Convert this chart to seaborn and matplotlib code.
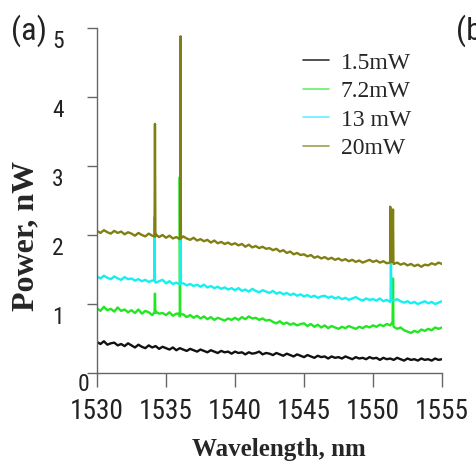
import numpy as np
import pandas as pd
import matplotlib
matplotlib.use("Agg")
import matplotlib.pyplot as plt
import matplotlib.transforms as mtransforms
from matplotlib import font_manager as fm
from matplotlib.lines import Line2D
import seaborn as sns

# sampling grid of the spectrum, nm
wavelength = np.linspace(1530, 1555, 101)

p_1_5 = [0.45, 0.42, 0.46, 0.41, 0.43, 0.44, 0.40, 0.42, 0.39, 0.43,
         0.40, 0.37, 0.41, 0.38, 0.36, 0.40, 0.37, 0.39, 0.35, 0.38,
         0.36, 0.34, 0.37, 0.33, 0.36, 0.34, 0.32, 0.35, 0.33, 0.31,
         0.34, 0.32, 0.30, 0.33, 0.31, 0.29, 0.32, 0.30, 0.31, 0.28,
         0.31, 0.29, 0.30, 0.27, 0.30, 0.28, 0.29, 0.31, 0.27, 0.29,
         0.28, 0.26, 0.29, 0.27, 0.25, 0.28, 0.26, 0.24, 0.27, 0.25,
         0.23, 0.26, 0.24, 0.22, 0.25, 0.23, 0.24, 0.21, 0.24, 0.22,
         0.23, 0.21, 0.24, 0.22, 0.20, 0.23, 0.21, 0.22, 0.20, 0.23,
         0.21, 0.22, 0.19, 0.22, 0.20, 0.21, 0.19, 0.22, 0.20, 0.18,
         0.21, 0.19, 0.20, 0.18, 0.21, 0.19, 0.20, 0.18, 0.21, 0.19,
         0.20]
p_7_2 = [0.94, 0.90, 0.96, 0.91, 0.93, 0.89, 0.95, 0.90, 0.92, 0.88,
         0.91, 0.87, 0.92, 0.86, 0.90, 0.88, 0.84, 0.89, 0.86, 0.87,
         0.84, 0.88, 0.83, 0.86, 0.82, 0.85, 0.81, 0.84, 0.80, 0.83,
         0.79, 0.82, 0.78, 0.81, 0.77, 0.80, 0.78, 0.76, 0.79, 0.77,
         0.80, 0.77, 0.81, 0.78, 0.82, 0.79, 0.80, 0.77, 0.79, 0.76,
         0.77, 0.74, 0.72, 0.75, 0.71, 0.73, 0.70, 0.72, 0.69, 0.71,
         0.72, 0.68, 0.71, 0.67, 0.70, 0.66, 0.69, 0.65, 0.68, 0.66,
         0.64, 0.67, 0.65, 0.68, 0.66, 0.64, 0.67, 0.65, 0.68, 0.66,
         0.69, 0.67, 0.70, 0.68, 0.71, 0.69, 0.67, 0.64, 0.66, 0.62,
         0.60, 0.58, 0.61, 0.59, 0.63, 0.61, 0.64, 0.62, 0.66, 0.64,
         0.66]
p_13 = [1.40, 1.37, 1.41, 1.38, 1.36, 1.40, 1.37, 1.35, 1.39, 1.36,
        1.37, 1.34, 1.36, 1.33, 1.35, 1.32, 1.34, 1.31, 1.33, 1.35,
        1.30, 1.33, 1.29, 1.31, 1.28, 1.30, 1.27, 1.29, 1.26, 1.28,
        1.25, 1.28, 1.24, 1.26, 1.23, 1.25, 1.22, 1.24, 1.21, 1.23,
        1.20, 1.23, 1.19, 1.21, 1.18, 1.22, 1.19, 1.17, 1.20, 1.18,
        1.16, 1.19, 1.15, 1.17, 1.14, 1.16, 1.13, 1.15, 1.12, 1.14,
        1.11, 1.13, 1.10, 1.12, 1.09, 1.11, 1.12, 1.09, 1.11, 1.08,
        1.10, 1.07, 1.09, 1.06, 1.08, 1.10, 1.07, 1.05, 1.08, 1.06,
        1.07, 1.05, 1.08, 1.04, 1.06, 1.03, 1.05, 1.07, 1.04, 1.02,
        1.04, 1.01, 1.03, 1.00, 1.02, 1.04, 1.01, 1.03, 1.00, 1.02,
        1.04]
p_20 = [2.06, 2.03, 2.07, 2.04, 2.02, 2.06, 2.03, 2.05, 2.01, 2.04,
        2.02, 1.99, 2.03, 2.00, 1.98, 2.02, 1.99, 2.01, 1.97, 2.00,
        1.96, 1.99, 1.95, 1.97, 1.94, 1.98, 1.95, 1.93, 1.96, 1.92,
        1.94, 1.91, 1.93, 1.89, 1.92, 1.88, 1.90, 1.87, 1.89, 1.86,
        1.88, 1.85, 1.87, 1.83, 1.86, 1.82, 1.84, 1.81, 1.83, 1.80,
        1.81, 1.78, 1.80, 1.76, 1.78, 1.74, 1.76, 1.72, 1.74, 1.71,
        1.72, 1.69, 1.71, 1.67, 1.69, 1.66, 1.68, 1.65, 1.67, 1.64,
        1.66, 1.63, 1.65, 1.62, 1.64, 1.61, 1.63, 1.60, 1.62, 1.64,
        1.61, 1.63, 1.60, 1.62, 1.59, 1.61, 1.58, 1.60, 1.57, 1.59,
        1.56, 1.58, 1.55, 1.57, 1.54, 1.57, 1.56, 1.59, 1.57, 1.60,
        1.58]

# narrow emission lines (wavelength, power) added to each trace
spike_wl_7_2 = [1534.17, 1534.20, 1534.23, 1535.97, 1536.00, 1536.03,
                1551.35, 1551.42, 1551.45, 1551.48]
spike_p_7_2 = [0.88, 1.15, 0.87, 0.86, 2.84, 0.85, 0.72, 0.74, 1.37, 0.69]
spike_wl_13 = [1534.14, 1534.17, 1534.20, 1536.02, 1536.05, 1536.08,
               1551.27, 1551.30, 1551.33]
spike_p_13 = [1.34, 2.26, 1.33, 1.29, 3.13, 1.30, 1.05, 1.75, 1.06]
spike_wl_20 = [1534.17, 1534.20, 1534.23, 1536.02, 1536.05, 1536.08,
               1551.22, 1551.25, 1551.30, 1551.40, 1551.45, 1551.48]
spike_p_20 = [1.98, 3.61, 1.98, 1.96, 4.88, 1.95, 1.60, 2.41, 1.62, 1.61,
              2.37, 1.60]

labels = ["1.5mW", "7.2mW", "13 mW", "20mW"]
colors = ["#111111", "#22e622", "#14f0f0", "#808012"]
legend_colors = ["#333333", "#66f066", "#66f0ff", "#a0a050"]

frames = []
for lab, vals, swl, sp in [(labels[0], p_1_5, [], []),
                           (labels[1], p_7_2, spike_wl_7_2, spike_p_7_2),
                           (labels[2], p_13, spike_wl_13, spike_p_13),
                           (labels[3], p_20, spike_wl_20, spike_p_20)]:
    frames.append(pd.DataFrame({"wavelength": np.concatenate([wavelength, swl]),
                                "power": np.concatenate([vals, sp]),
                                "pump": lab}))
df = pd.concat(frames, ignore_index=True)

sns.set_style("ticks")

# tick labels in the reference are a narrow sans; take the narrowest installed
names = {(f.name, f.stretch) for f in fm.fontManager.ttflist}
narrow_choices = [("Liberation Sans Narrow", "normal", 0.46),
                  ("Roboto Condensed", "normal", 0.51),
                  ("Open Sans Condensed", "normal", 0.50),
                  ("DejaVu Sans", "condensed", 0.57)]
tick_font, tick_stretch, digit_w = "DejaVu Sans", "normal", 0.636
for fam, st, w in narrow_choices:
    if any(n == fam and (s == st or st == "normal") for n, s in names):
        tick_font, tick_stretch, digit_w = fam, st, w
        break
plt.rcParams["font.family"] = [tick_font, "DejaVu Sans"]
plt.rcParams["font.stretch"] = tick_stretch
# sizes in points chosen so digit widths match the reference
xt_size = 14.0 / digit_w * 0.72
yt_size = 12.0 / digit_w * 0.72

serif = ["Liberation Serif", "DejaVu Serif"]

fig = plt.figure(figsize=(4.77, 4.69), dpi=100)
ax = fig.add_axes([97 / 477, 1 - 373 / 469, 345 / 477, 345 / 469])

sns.lineplot(data=df, x="wavelength", y="power", hue="pump",
             hue_order=labels, palette=dict(zip(labels, colors)),
             estimator=None, sort=True, linewidth=1.7, legend=False, ax=ax)

ax.set_xlim(1530, 1555)
ax.set_ylim(0, 5)
ax.set_xticks([1530, 1535, 1540, 1545, 1550, 1555])
ax.set_yticks([0, 1, 2, 3, 4, 5])
sns.despine(ax=ax)
for s in ["left", "bottom"]:
    ax.spines[s].set_color("#666666")
    ax.spines[s].set_linewidth(1.0)
ax.tick_params(axis="x", direction="out", length=10, width=1, color="#666666",
               labelsize=xt_size, labelcolor="#222222", pad=8)
ax.tick_params(axis="y", direction="out", length=7, width=1, color="#666666",
               labelsize=yt_size, labelcolor="#222222", pad=17)

down = mtransforms.ScaledTranslation(0, -11 / 100, fig.dpi_scale_trans)
for i, lab in enumerate(ax.get_yticklabels()):
    if i == 0:
        shift = mtransforms.ScaledTranslation(26 / 100, -9 / 100, fig.dpi_scale_trans)
        lab.set_transform(lab.get_transform() + shift)
    else:
        lab.set_transform(lab.get_transform() + down)

ax.set_xlabel("Wavelength, nm", family=serif, fontweight="bold", fontsize=18,
              va="center")
ax.xaxis.set_label_coords(0.528, -0.223)
ax.set_ylabel("Power, nW", family=serif, fontweight="bold", fontsize=23,
              va="center")
ax.yaxis.set_label_coords(-0.206, 0.397)

handles = [Line2D([], [], color=c, linewidth=1.2) for c in legend_colors]
ax.legend(handles, labels, loc="upper left",
          bbox_to_anchor=(303 / 477, 1 - 52 / 469),
          bbox_transform=fig.transFigure, frameon=False,
          prop={"family": serif, "size": 17}, handlelength=1.1,
          handletextpad=0.5, labelspacing=0.3, borderpad=0, borderaxespad=0)

fig.text(11 / 477, 1 - 31 / 469, "(a)", fontsize=xt_size * 1.18, ha="left",
         va="center", color="#222222")
fig.text(456 / 477, 1 - 31 / 469, "(b", fontsize=xt_size * 1.18, ha="left",
         va="center", color="#222222")

fig.savefig("out.png", dpi=100)
